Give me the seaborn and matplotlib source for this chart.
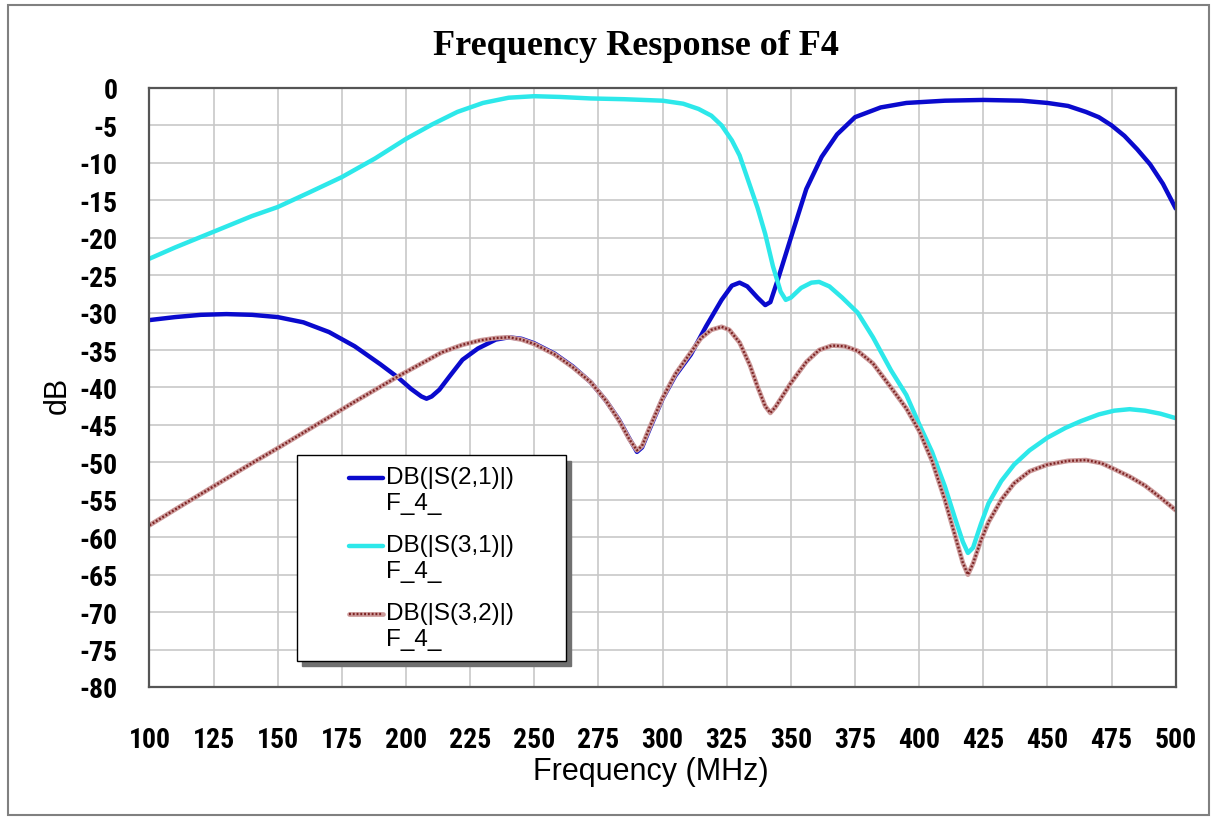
#!/usr/bin/python

import numpy as np
import pandas as pd
import seaborn as sns
import matplotlib
matplotlib.use('Agg')
import matplotlib.pyplot as plt
from matplotlib import font_manager
from matplotlib.lines import Line2D
from matplotlib.patches import Rectangle
from matplotlib.legend_handler import HandlerBase


####################################################################################################
# Data (frequency in MHz, level in dB)
####################################################################################################
s21_freq = [100, 110, 120, 130, 140, 150, 160, 170, 180, 190, 197, 202, 206, 208, 210, 213, 217,
            222, 228, 235, 240, 245, 250, 258, 265, 272, 278, 283, 287, 290, 292, 295, 300, 305,
            311, 317, 323, 327, 330, 333, 337, 340, 342, 345, 350, 356, 362, 368, 375, 385, 395,
            410, 425, 440, 450, 458, 465, 470, 475, 480, 485, 490, 495, 500]
s21_db = [-31.0, -30.6, -30.3, -30.2, -30.3, -30.6, -31.3, -32.6, -34.5, -36.9, -38.7, -40.2, -41.2,
          -41.5, -41.2, -40.3, -38.5, -36.3, -34.8, -33.6, -33.3, -33.5, -34.1, -35.5, -37.2, -39.3,
          -41.8, -44.3, -46.8, -48.6, -48.0, -45.5, -41.5, -38.4, -35.6, -31.8, -28.3, -26.4, -26.0,
          -26.5, -28.0, -29.0, -28.6, -25.5, -20.0, -13.5, -9.2, -6.2, -3.9, -2.6, -2.0, -1.7,
          -1.6, -1.7, -2.0, -2.4, -3.2, -3.9, -5.0, -6.4, -8.2, -10.2, -12.8, -16.1]

s31_freq = [100, 110, 125, 140, 150, 162, 175, 188, 200, 210, 220, 230, 240, 250, 260, 272, 285,
            300, 308, 314, 319, 323, 327, 330, 333, 337, 340, 343, 346, 348, 350, 354, 358, 361,
            365, 370, 376, 382, 389, 395, 400, 405, 410, 414, 417, 419, 421, 424, 427, 432, 437,
            443, 450, 457, 463, 470, 476, 482, 488, 494, 500]
s31_db = [-22.8, -21.3, -19.2, -17.1, -15.9, -14.0, -11.9, -9.4, -6.8, -4.9, -3.2, -2.0, -1.3, -1.1,
          -1.2, -1.4, -1.5, -1.7, -2.1, -2.8, -3.7, -5.0, -7.0, -9.0, -12.0, -16.0, -19.5, -23.8,
          -27.2, -28.3, -28.0, -26.7, -26.0, -25.9, -26.5, -28.0, -30.0, -33.3, -37.7, -41.0,
          -44.9, -48.6, -53.2, -57.5, -60.6, -62.1, -61.4, -58.3, -55.5, -52.5, -50.3, -48.4,
          -46.7, -45.4, -44.5, -43.6, -43.1, -42.9, -43.1, -43.5, -44.1]

s32_freq = [100, 110, 125, 140, 151, 165, 180, 190, 198, 206, 214, 222, 229, 235, 240, 245, 250,
            258, 265, 272, 278, 283, 287, 290, 292, 295, 300, 305, 311, 315, 319, 323, 326, 330,
            334, 337, 340, 342, 344, 347, 350, 356, 361, 366, 371, 376, 382, 389, 395, 400, 405,
            410, 414, 417, 419, 421, 424, 427, 432, 437, 443, 450, 458, 465, 471, 476, 482, 488,
            494, 500]
s32_db = [-58.4, -56.3, -53.2, -50.1, -47.9, -45.0, -41.9, -39.9, -38.3, -36.8, -35.3, -34.3, -33.7,
          -33.4, -33.3, -33.6, -34.2, -35.6, -37.3, -39.3, -41.8, -44.4, -46.9, -48.4, -47.8,
          -45.3, -41.4, -38.2, -35.3, -33.4, -32.3, -31.9, -32.3, -34.0, -37.0, -39.9, -42.5,
          -43.4, -42.6, -41.0, -39.4, -36.6, -35.0, -34.4, -34.5, -35.1, -36.8, -40.0, -42.8,
          -45.8, -49.8, -55.0, -59.8, -63.4, -65.0, -63.5, -60.5, -58.0, -55.0, -52.8, -51.2,
          -50.3, -49.8, -49.7, -50.1, -50.9, -51.9, -53.1, -54.7, -56.4]

trace_labels = ['DB(|S(2,1)|)\nF_4_', 'DB(|S(3,1)|)\nF_4_', 'DB(|S(3,2)|)\nF_4_']
x_ticks = list(range(100, 501, 25))
y_ticks = list(range(0, -81, -5))


####################################################################################################
# @HandlerShort: short legend line drawn next to the first text line
####################################################################################################
class HandlerShort(HandlerBase):

    def create_artists(self, legend, orig_handle, xdescent, ydescent, width, height, fontsize, trans):
        x1 = width - xdescent
        x0 = x1 - 1.4 * fontsize
        y = height / 2.0 - ydescent + 0.50 * fontsize
        artists = []
        for handle in orig_handle:
            line = Line2D([x0, x1], [y, y])
            line.update_from(handle)
            line.set_transform(trans)
            artists.append(line)
        return artists


####################################################################################################
# @Main
####################################################################################################
if __name__ == "__main__":

    sns.set_style('whitegrid')

    names = {f.name for f in font_manager.fontManager.ttflist}
    tick_family, tick_size = 'Liberation Sans', 18
    for cand in ['Liberation Sans Narrow', 'Roboto Condensed', 'Open Sans Condensed',
                 'DejaVu Sans Condensed']:
        if cand in names:
            tick_family, tick_size = cand, 20
            break

    plt.rcParams['font.family'] = ['Liberation Sans', 'DejaVu Sans']
    plt.rcParams['axes.unicode_minus'] = False
    plt.rcParams['text.color'] = 'black'

    fig = plt.figure(figsize=(12.15, 8.2), dpi=100)
    ax = fig.add_axes([0.123, 0.161, 0.8447, 0.7305])

    # Traces
    sns.lineplot(x=s21_freq, y=s21_db, ax=ax, color='#0A0ACD', lw=3.2, sort=False, estimator=None)
    sns.lineplot(x=s31_freq, y=s31_db, ax=ax, color='#2DE8EA', lw=3.2, sort=False, estimator=None)
    sns.lineplot(x=s32_freq, y=s32_db, ax=ax, color='#CC9A9A', lw=3.4, sort=False, estimator=None)
    sns.lineplot(x=s32_freq, y=s32_db, ax=ax, color='#7E2424', lw=1.7, sort=False, estimator=None,
                 linestyle=(0, (0.8, 0.8)))
    lines = ax.get_lines()

    # Axes
    ax.set_xlim(100, 500)
    ax.set_ylim(-80, 0)
    ax.set_xticks(x_ticks)
    ax.set_yticks(y_ticks)
    ax.grid(True, color='#C8C8C8', lw=1.2)
    ax.set_axisbelow(True)
    for spine in ax.spines.values():
        spine.set_color('#555555')
        spine.set_linewidth(1.6)
    ax.tick_params(axis='both', length=0, labelsize=tick_size, colors='black')
    ax.tick_params(axis='x', pad=28)
    ax.tick_params(axis='y', pad=23)
    for lab in ax.get_xticklabels() + ax.get_yticklabels():
        lab.set_family(tick_family)
        lab.set_fontweight('bold')

    ax.set_xlabel('Frequency (MHz)', fontsize=22, color='black')
    ax.xaxis.set_label_coords(0.4887, -0.14)
    ax.xaxis.label.set_va('center')
    ax.set_ylabel('dB', fontsize=22, color='black')
    ax.yaxis.set_label_coords(-0.0892, 0.488)
    ax.yaxis.label.set_va('center')

    # Title
    fig.text(0.5235, 0.933, 'Frequency Response of F4', ha='center', va='baseline',
             family=['Liberation Serif', 'DejaVu Serif'], fontweight='bold', fontsize=26,
             color='black')

    # Legend
    handles = [(lines[0],), (lines[1],), (lines[2], lines[3])]
    leg = ax.legend(handles, trace_labels, handler_map={tuple: HandlerShort()},
                    loc='upper left', bbox_to_anchor=(0.1437, 0.0, 0.2621, 0.3867), mode='expand',
                    borderaxespad=0, fontsize=17.5, handlelength=3.1, handletextpad=0.1,
                    labelspacing=0.85, borderpad=0.45, frameon=True, fancybox=False, framealpha=1,
                    labelcolor='black',
                    shadow={'ox': 4, 'oy': -4, 'color': '#707070', 'alpha': 1})
    leg.get_frame().set_edgecolor('black')
    leg.get_frame().set_linewidth(1.0)

    # Figure border
    fig.patches.append(Rectangle((0.0066, 0.005), 0.9885, 0.988, transform=fig.transFigure,
                                 fill=False, ec='#808080', lw=1.5))

    plt.savefig('out.png', dpi=100)
    plt.close()
